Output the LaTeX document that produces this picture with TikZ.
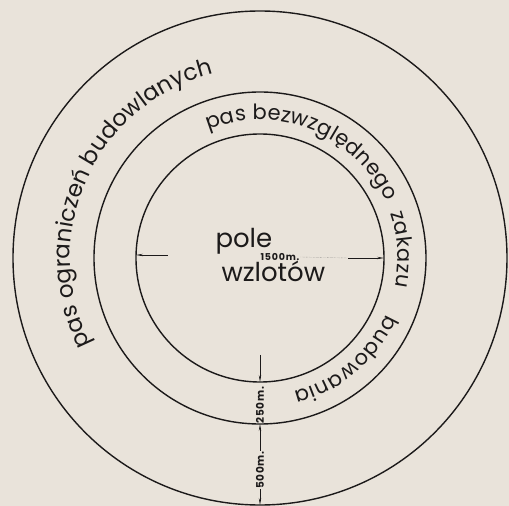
\documentclass[tikz,border=0pt]{standalone}
\usepackage{fontspec}
\setmainfont{Poppins}
\usepackage{tikz}
\usetikzlibrary{arrows.meta,decorations.text}
\definecolor{paper}{RGB}{233,227,218}
\definecolor{ink}{RGB}{28,26,26}
\newcommand\bandfont{\fontsize{23}{26}\selectfont}
\newcommand\innerfont{\fontsize{21}{24}\selectfont}

\begin{document}
\begin{tikzpicture}[x=1pt,y=1pt,>={Stealth[length=7pt,width=2.4pt]},
  ring/.style={draw=ink,line width=1.4pt},
  dimline/.style={->,draw=ink,line width=0.8pt},
  dimtext/.style={rotate=90,text=ink,inner sep=0.5pt,font=\fontsize{10.5}{11}\selectfont\bfseries\addfontfeature{LetterSpace=6}},
  outerband/.style={decorate,decoration={text along path,text align=fit to path,text color=ink,text={|\bandfont|#1}}},
  innerband/.style={decorate,decoration={text along path,text align=fit to path,text color=ink,text={|\innerfont|#1}}}]
  \fill[paper] (-260,-248) rectangle (249,258);
  \useasboundingbox (-260,-248) rectangle (249,258);
  \draw[ring] (0,0) circle[radius=124];
  \draw[ring] (0,0) circle[radius=166];
  \draw[ring] (0,0) circle[radius=247];
  \path[outerband={pas ograniczeń budowlanych}] (207:190) arc[start angle=207,end angle=104,radius=190];
  \path[innerband={pas bezwzględnego}] (112:138) arc[start angle=112,end angle=24,radius=138];
  \path[innerband={zakazu}] (19:138) arc[start angle=19,end angle=-12,radius=138];
  \path[innerband={budowania}] (-24:138) arc[start angle=-24,end angle=-76,radius=138];
  \node[anchor=base west,text=ink,font=\fontsize{26}{28}\selectfont] (pole) at (-48,10) {pole};
  \node[anchor=base west,text=ink,font=\fontsize{26}{28}\selectfont] (wzlotow) at (-42,-24) {wzlotów};
  \node[text=ink,inner sep=1pt,font=\fontsize{9.5}{10}\selectfont\bfseries\addfontfeature{LetterSpace=8}] (span) at (20,1) {1500m.};
  \coordinate (inW) at (-124,3);
  \coordinate (inE) at (124,0);
  \coordinate (arrW) at (-92,3);
  \coordinate (arrE) at (88,0);
  \draw[dimline] (arrW) -- (inW);
  \draw[dimline] (arrE) -- (inE);
  \draw[ink!60,densely dotted,line width=0.4pt] (span.east) -- (arrE);
  \coordinate (dimTop) at (0,-97);
  \coordinate (inS) at (0,-124);
  \coordinate (midS) at (0,-166);
  \coordinate (outS) at (0,-247);
  \node[dimtext] (w250) at (0,-147) {250m.};
  \node[dimtext] (w500) at (0,-212) {500m.};
  \draw[dimline] (dimTop) -- (inS);
  \draw[dimline] (w500.east) -- (midS);
  \draw[dimline] (w500.west) -- (outS);
\end{tikzpicture}
\end{document}
